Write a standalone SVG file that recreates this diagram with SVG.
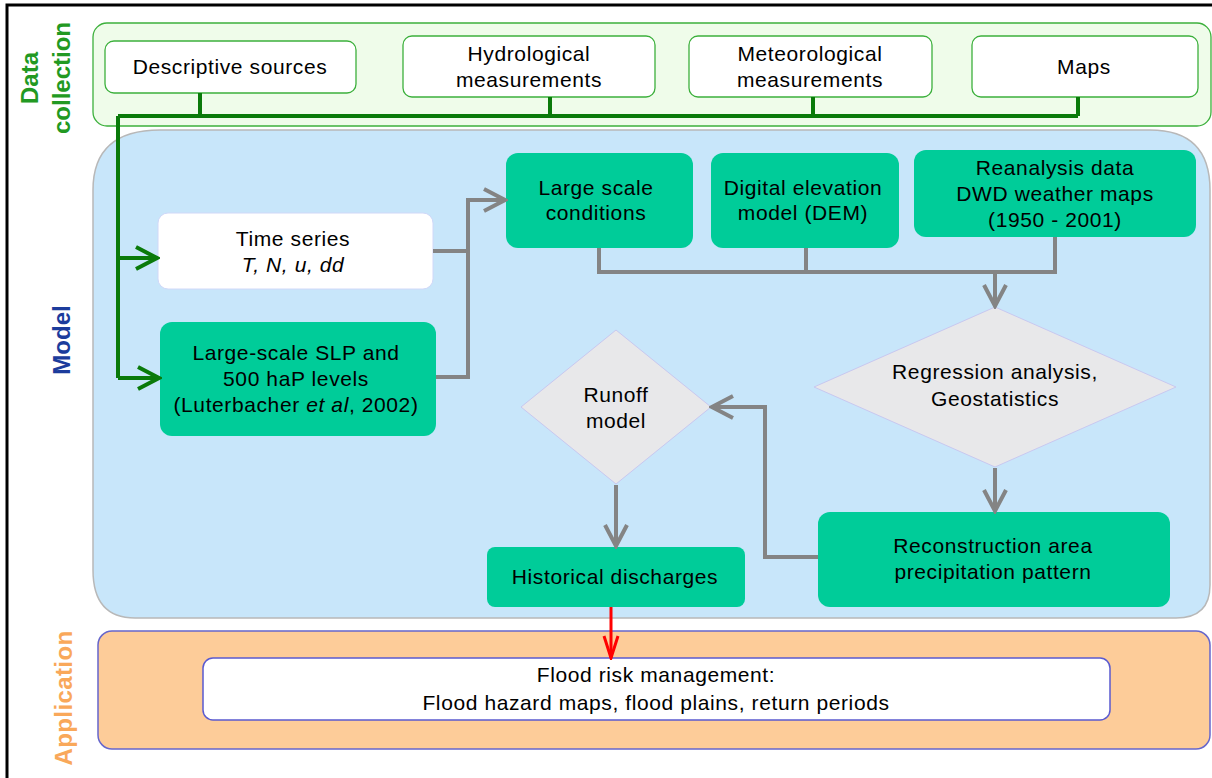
<svg xmlns="http://www.w3.org/2000/svg" width="1212" height="778" viewBox="0 0 1212 778">
<style>
text{font-family:"Liberation Sans",Arial,sans-serif;fill:#000;text-anchor:middle;}
.t{font-size:21px;letter-spacing:0.6px;}
.dc{fill:#fff;stroke:#3cb03c;stroke-width:1.3;}
.gn{fill:#00cc99;stroke:none;}
.dia{fill:#e8e8ea;stroke:#c8c8f0;stroke-width:1;}
.g{fill:none;stroke:#848484;stroke-width:4;}
.gr{fill:none;stroke:#0a7a0a;stroke-width:4;}
.lab{font-weight:bold;font-size:24px;}
</style>
<defs>
<marker id="ag" viewBox="0 0 26 26" refX="23" refY="13" markerWidth="26" markerHeight="26" markerUnits="userSpaceOnUse" orient="auto"><path d="M2,2 L23,13 L2,24" fill="none" stroke="#848484" stroke-width="4"/></marker>
<marker id="agr" viewBox="0 0 26 26" refX="23" refY="13" markerWidth="26" markerHeight="26" markerUnits="userSpaceOnUse" orient="auto"><path d="M2,2 L23,13 L2,24" fill="none" stroke="#0a7a0a" stroke-width="4"/></marker>
<marker id="ar" viewBox="0 0 26 20" refX="24" refY="10" markerWidth="26" markerHeight="20" markerUnits="userSpaceOnUse" orient="auto"><path d="M2,3 L24,10 L2,17" fill="none" stroke="#ff0000" stroke-width="3"/></marker>
</defs>
<rect width="1212" height="778" fill="#fff"/>
<path d="M7,778 V5 H1212" fill="none" stroke="#000" stroke-width="3"/>

<!-- panels -->
<g id="panel-data">
<rect x="93" y="23" width="1118" height="103" rx="14" fill="#effcea" stroke="#3cb03c" stroke-width="1.3"/>
<text class="lab" transform="translate(38,78) rotate(-90)" style="fill:#229922">Data</text>
<text class="lab" transform="translate(70,78) rotate(-90)" style="fill:#229922">collection</text>
</g>
<g id="panel-model">
<path d="M160,130 H1150 Q1210,130 1210,190 V585 Q1210,618 1176,618 H135 Q93,618 93,570 V190 Q93,130 160,130 Z" fill="#c8e6fa" stroke="#b8b8b8" stroke-width="1.5"/>
<text class="lab" transform="translate(70,340) rotate(-90)" style="fill:#1c3c9c">Model</text>
</g>
<g id="panel-app">
<rect x="98" y="631" width="1112" height="118" rx="14" fill="#fdcc99" stroke="#6666cc" stroke-width="1.5"/>
<text class="lab" transform="translate(72,698) rotate(-90)" style="fill:#f9a85a;letter-spacing:0.4px">Application</text>
</g>

<!-- data collection nodes -->
<g id="n-desc"><rect class="dc" x="105" y="41" width="251" height="52" rx="9"/><text class="t" x="230" y="74">Descriptive sources</text></g>
<g id="n-hydro"><rect class="dc" x="403" y="36" width="252" height="61" rx="9"/><text class="t" x="529" y="61">Hydrological</text><text class="t" x="529" y="87">measurements</text></g>
<g id="n-meteo"><rect class="dc" x="689" y="36" width="243" height="61" rx="9"/><text class="t" x="810" y="61">Meteorological</text><text class="t" x="810" y="87">measurements</text></g>
<g id="n-maps"><rect class="dc" x="972" y="36" width="226" height="61" rx="9"/><text class="t" x="1084" y="74">Maps</text></g>

<!-- model nodes -->
<g id="n-ts"><rect x="158" y="213" width="275" height="76" rx="10" fill="#fff" stroke="#d0d8f8" stroke-width="1"/><text class="t" x="293" y="246">Time series</text><text class="t" x="293" y="272" font-style="italic">T, N, u, dd</text></g>
<g id="n-slp"><rect class="gn" x="160" y="322" width="276" height="114" rx="12"/><text class="t" x="296" y="360">Large-scale SLP and</text><text class="t" x="296" y="386">500 haP levels</text><text class="t" x="296" y="412">(Luterbacher <tspan font-style="italic">et al</tspan>, 2002)</text></g>
<g id="n-lsc"><rect class="gn" x="506" y="153" width="187" height="95" rx="12"/><text class="t" x="596" y="195">Large scale</text><text class="t" x="596" y="220">conditions</text></g>
<g id="n-dem"><rect class="gn" x="711" y="153" width="188" height="95" rx="12"/><text class="t" x="803" y="195">Digital elevation</text><text class="t" x="803" y="220">model (DEM)</text></g>
<g id="n-rea"><rect class="gn" x="914" y="150" width="282" height="87" rx="12"/><text class="t" x="1055" y="175">Reanalysis data</text><text class="t" x="1055" y="201">DWD weather maps</text><text class="t" x="1055" y="227">(1950 - 2001)</text></g>
<g id="n-reg"><polygon class="dia" points="995,307 1176,387 995,467 814,387"/><text class="t" x="995" y="379">Regression analysis,</text><text class="t" x="995" y="406">Geostatistics</text></g>
<g id="n-rec"><rect class="gn" x="818" y="512" width="352" height="95" rx="12"/><text class="t" x="993" y="553">Reconstruction area</text><text class="t" x="993" y="579">precipitation pattern</text></g>
<g id="n-run"><polygon class="dia" points="616,330 711,407 616,484 521,407"/><text class="t" x="616" y="402">Runoff</text><text class="t" x="616" y="428">model</text></g>
<g id="n-hist"><rect class="gn" x="487" y="547" width="258" height="60" rx="8"/><text class="t" x="615" y="584">Historical discharges</text></g>

<!-- application node -->
<g id="n-flood"><rect x="203" y="658" width="907" height="62" rx="10" fill="#fff" stroke="#5a5ad0" stroke-width="1.5"/><text class="t" x="656" y="682">Flood risk management:</text><text class="t" x="656" y="710">Flood hazard maps, flood plains, return periods</text></g>

<!-- connectors -->
<g id="connectors">
<path class="gr" d="M200,93 V116 M550,97 V116 M813,97 V116 M1078,97 V116 M118,116 H1078"/>
<path class="gr" d="M118,116 V378"/>
<path class="gr" d="M118,258 H157" marker-end="url(#agr)"/>
<path class="gr" d="M118,378 H159" marker-end="url(#agr)"/>
<path class="g" d="M433,251 H468 M436,377 H468 V200 H505" marker-end="url(#ag)"/>
<path class="g" d="M599,248 V272 H1055 V237 M806,248 V272"/>
<path class="g" d="M995,272 V306" marker-end="url(#ag)"/>
<path class="g" d="M995,468 V511" marker-end="url(#ag)"/>
<path class="g" d="M818,557 H765 V407 H712" marker-end="url(#ag)"/>
<path class="g" d="M616,485 V546" marker-end="url(#ag)"/>
<path d="M611,607 V658" fill="none" stroke="#ff0000" stroke-width="3" marker-end="url(#ar)"/>
</g>
</svg>
